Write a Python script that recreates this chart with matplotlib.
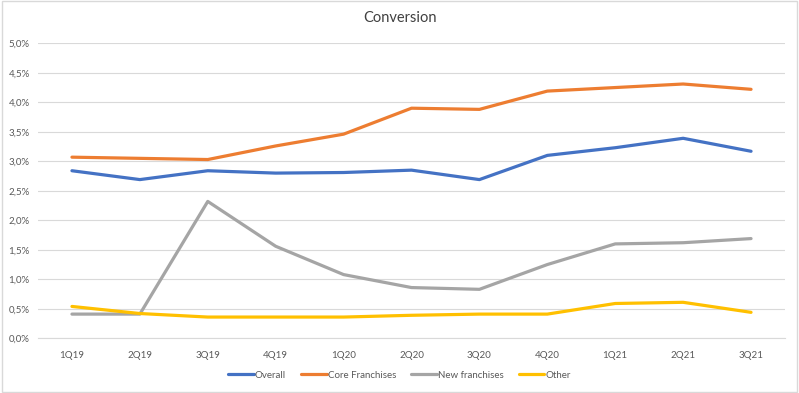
import numpy as np
import matplotlib.pyplot as plt
from matplotlib.ticker import FuncFormatter
from matplotlib.patches import Rectangle

plt.rcParams['font.family'] = ['Lato', 'DejaVu Sans']

quarters = ['1Q19', '2Q19', '3Q19', '4Q19', '1Q20', '2Q20', '3Q20', '4Q20', '1Q21', '2Q21', '3Q21']
overall = [2.84, 2.69, 2.84, 2.80, 2.81, 2.85, 2.69, 3.10, 3.23, 3.39, 3.17]
core = [3.07, 3.05, 3.03, 3.26, 3.46, 3.90, 3.88, 4.19, 4.25, 4.31, 4.22]
new_fr = [0.41, 0.41, 2.32, 1.56, 1.08, 0.86, 0.83, 1.25, 1.60, 1.62, 1.69]
other = [0.54, 0.42, 0.36, 0.36, 0.36, 0.39, 0.41, 0.41, 0.59, 0.61, 0.44]

series = [('Overall', overall, '#4472C4'),
          ('Core Franchises', core, '#ED7D31'),
          ('New franchises', new_fr, '#A5A5A5'),
          ('Other', other, '#FFC000')]

fig = plt.figure(figsize=(7.99, 3.93), dpi=100)
fig.patches.append(Rectangle((0.002, 0.003), 0.996, 0.994, transform=fig.transFigure,
                             fill=False, edgecolor='#d9d9d9', lw=1))
ax = fig.add_axes([38 / 799, 1 - 338.3 / 393, 747 / 799, 295 / 393])

x = np.arange(len(quarters))
for name, vals, col in series:
    ax.plot(x, vals, color=col, lw=2.3, label=name, solid_capstyle='round')

ax.set_xlim(-0.5, len(quarters) - 0.5)
ax.set_ylim(0, 5)
ax.set_yticks(np.arange(0, 5.01, 0.5))
ax.yaxis.set_major_formatter(FuncFormatter(lambda v, p: f'{v:.1f}%'.replace('.', ',')))
ax.set_xticks(x)
ax.set_xticklabels(quarters)
ax.grid(axis='y', color='#d9d9d9', lw=0.8)
ax.set_axisbelow(True)
for s in ['top', 'right', 'left']:
    ax.spines[s].set_visible(False)
ax.spines['bottom'].set_color('#d9d9d9')
ax.tick_params(length=0, labelsize=7, labelcolor='#595959')
ax.tick_params(axis='x', pad=9)
ax.tick_params(axis='y', pad=6)

fig.text(0.5, 1 - 18 / 393, 'Conversion', ha='center', va='center', fontsize=10.5, color='#404040')
fig.legend(loc='center', bbox_to_anchor=(0.5, 1 - 375 / 393), ncol=4, frameon=False,
           fontsize=7, labelcolor='#595959', handlelength=2.6, handletextpad=0.1, columnspacing=1.6)

fig.savefig('out.png', dpi=100)
